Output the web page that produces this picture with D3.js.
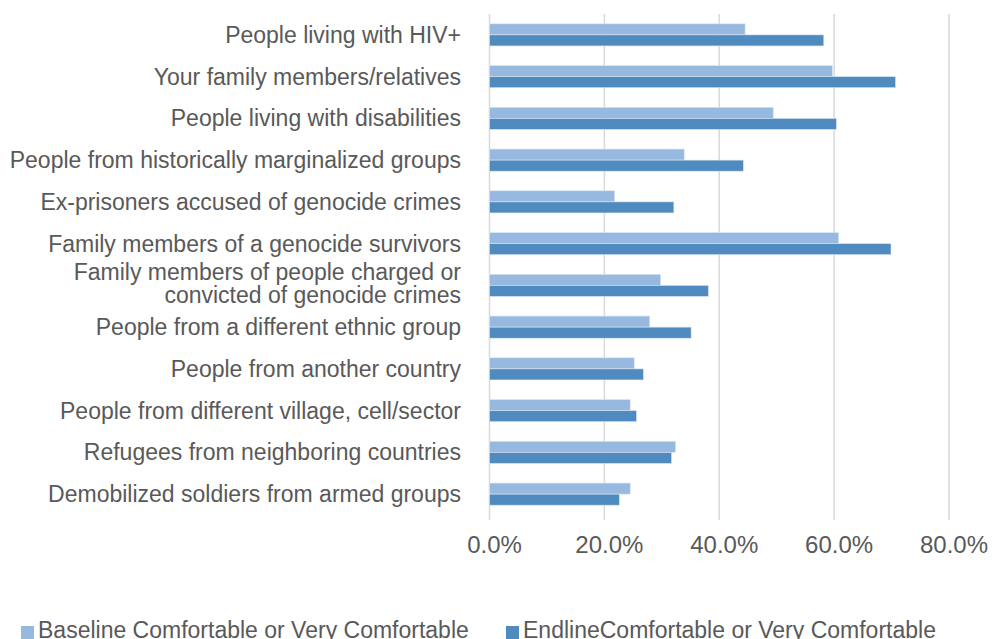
<!DOCTYPE html>
<html><head><meta charset="utf-8">
<script src="https://cdn.jsdelivr.net/npm/d3@7"></script>
<style>body{margin:0;background:#fff}svg{display:block}text{font-family:"Liberation Sans",Arial,sans-serif;fill:#595959}</style>
</head><body>
<svg id="c" width="994" height="639"></svg>
<script>
const categories = [
  "People living with HIV+",
  "Your family members/relatives",
  "People living with disabilities",
  "People from historically marginalized groups",
  "Ex-prisoners accused of genocide crimes",
  "Family members of a genocide survivors",
  "Family members of people charged or|convicted of genocide crimes",
  "People from a different ethnic group",
  "People from another country",
  "People from different village, cell/sector",
  "Refugees from neighboring countries",
  "Demobilized soldiers from armed groups"
];
const baseline = [44.5, 59.7, 49.4, 33.9, 21.8, 60.8, 29.8, 27.9, 25.2, 24.5, 32.4, 24.5];
const endline  = [58.2, 70.7, 60.4, 44.2, 32.1, 69.9, 38.1, 35.1, 26.8, 25.6, 31.7, 22.6];
const seriesNames = ["Baseline Comfortable or Very Comfortable", "EndlineComfortable or Very Comfortable"];
const seriesColors = ["#97B9DF", "#4F8BBE"];
const xTicks = [0, 20, 40, 60, 80];

(function () {
const svg = d3.select("#c");
const pLeft = 489.5, pRight = 949, pTop = 14, pBottom = 515;
const x = d3.scaleLinear().domain([0, 80]).range([pLeft, pRight]);
const y = d3.scaleBand().domain(categories).range([pTop, pBottom]).paddingInner(0.47).paddingOuter(0.235);
const sub = d3.scaleBand().domain([0, 1]).range([0, y.bandwidth()]);

// gridlines
svg.append("g").selectAll("line").data(xTicks).join("line")
  .attr("x1", d => x(d)).attr("x2", d => x(d))
  .attr("y1", pTop).attr("y2", pBottom + 5)
  .attr("stroke", "#d9d9d9").attr("stroke-width", 1.5);

// bars
const data = categories.map((c, i) => ({c, v: [baseline[i], endline[i]]}));
const g = svg.append("g").selectAll("g").data(data).join("g")
  .attr("transform", d => `translate(0,${y(d.c)})`);
g.selectAll("rect").data(d => d.v.map((v, k) => ({v, k}))).join("rect")
  .attr("x", x(0)).attr("y", d => sub(d.k))
  .attr("width", d => x(d.v) - x(0)).attr("height", sub.bandwidth())
  .attr("fill", d => seriesColors[d.k])
  .attr("stroke", "#dbe6f3").attr("stroke-width", 0.6);

// category labels
const labels = svg.append("g").selectAll("text").data(categories).join("text")
  .attr("text-anchor", "end").attr("x", 461)
  .attr("font-size", 23);
labels.each(function(d) {
  const parts = d.split("|");
  const cy = y(d) + y.bandwidth() / 2 - (parts.length > 1 ? 1.5 : 0);
  const t = d3.select(this);
  parts.forEach((p, i) => {
    t.append("tspan").attr("x", 461)
      .attr("y", cy + (i - (parts.length - 1) / 2) * 23)
      .attr("dy", "0.35em").text(p);
  });
});

// x axis labels
svg.append("g").selectAll("text").data(xTicks).join("text")
  .attr("x", d => x(d) + 5).attr("y", 545).attr("dy", "0.35em")
  .attr("text-anchor", "middle").attr("font-size", 24)
  .text(d => d3.format(".1f")(d) + "%");

// legend
const lx = [21, 506];
const lg = svg.append("g").selectAll("g").data(seriesNames).join("g")
  .attr("transform", (d, i) => `translate(${lx[i]},626)`);
lg.append("rect").attr("width", 13).attr("height", 13).attr("fill", (d, i) => seriesColors[i]);
lg.append("text").attr("x", 17).attr("y", 12).attr("font-size", 23).text(d => d);
})();
</script>
</body></html>
